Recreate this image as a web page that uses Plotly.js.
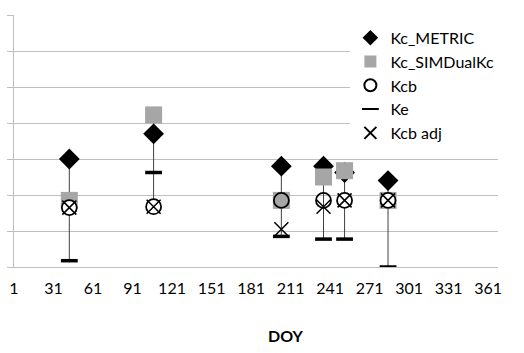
<!DOCTYPE html>
<html><head><meta charset="utf-8">
<script src="https://cdn.plot.ly/plotly-3.0.1.min.js"></script>
<style>html,body{margin:0;padding:0;background:#fff}#chart{width:524px;height:353px}</style>
</head><body><div id="chart"></div>
<script>
// Day of year of each observation
const doy = [43, 107, 204, 236, 252, 285];
// Series values
const kcMetric  = [0.60, 0.74, 0.56, 0.56, 0.525, 0.48];
const kcSimDual = [0.37, 0.845, 0.37, 0.50, 0.535, 0.37];
const kcb       = [0.33, 0.335, 0.37, 0.37, 0.37, 0.37];
const ke        = [0.035, 0.525, 0.17, 0.155, 0.155, 0.0];
const kcbAdj    = [0.33, 0.335, 0.21, 0.335, 0.37, 0.37];
// Axis ticks
const xTicks = [1, 31, 61, 91, 121, 151, 181, 211, 241, 271, 301, 331, 361];
const yTicks = [0, 0.2, 0.4, 0.6, 0.8, 1.0, 1.2, 1.4];

const FONT = 'Lato, "Open Sans", sans-serif';

// high-low lines built from the series
const hlX = [], hlY = [];
doy.forEach((d, i) => {
  const vals = [kcMetric[i], kcSimDual[i], kcb[i], ke[i], kcbAdj[i]];
  hlX.push(d, d, null);
  hlY.push(Math.max(...vals), Math.min(...vals), null);
});
const circleFill = doy.map((d, i) => (kcbAdj[i] === kcb[i] ? '#ffffff' : 'rgba(0,0,0,0)'));

const traces = [
  {x: hlX, y: hlY, mode: 'lines', line: {color: '#404040', width: 1}, showlegend: false, hoverinfo: 'skip'},
  {x: doy, y: kcMetric, name: 'Kc_METRIC', legendgroup: 'a', mode: 'markers',
   marker: {symbol: 'diamond', size: 16, color: '#000000'}},
  {x: doy, y: kcSimDual, name: 'Kc_SIMDualKc', legendgroup: 'b', mode: 'markers',
   marker: {symbol: 'square', size: 17, color: '#a6a6a6'}},
  {x: doy, y: kcb, name: 'Kcb', legendgroup: 'c', mode: 'markers',
   marker: {symbol: 'circle', size: 15, color: circleFill, line: {color: '#000000', width: 1.75}}},
  {x: doy, y: ke, name: 'Ke', legendgroup: 'd', mode: 'markers',
   marker: {symbol: 'line-ew', size: 12, color: '#000000', line: {color: '#000000', width: 3.5}}},
  {x: doy, y: kcbAdj, name: 'Kcb adj', legendgroup: 'e', mode: 'markers',
   marker: {symbol: 'x-thin-open', size: 14, color: '#000000', line: {color: '#000000', width: 1.5}}}
];

const layout = {
  width: 524, height: 353,
  margin: {l: 14, r: 26, t: 15, b: 86},
  paper_bgcolor: '#ffffff', plot_bgcolor: '#ffffff',
  font: {family: FONT, size: 16, color: '#000000'},
  showlegend: true,
  legend: {x: 0.695, xanchor: 'left', y: 0.977, yanchor: 'top', bgcolor: '#ffffff',
           font: {family: FONT, size: 16, color: '#000000'}, itemwidth: 30, itemsizing: 'constant',
           tracegroupgap: 4, traceorder: 'normal'},
  xaxis: {range: [1, 368.5], tickmode: 'array', tickvals: xTicks, ticktext: xTicks.map(String),
          showgrid: false, zeroline: false, showline: true, linecolor: '#bfbfbf', linewidth: 1,
          ticks: '', ticklabelstandoff: 7, tickfont: {family: FONT, size: 16, color: '#000000'}},
  yaxis: {range: [0, 1.4], tickmode: 'array', tickvals: yTicks, showticklabels: false,
          showgrid: true, gridcolor: '#bfbfbf', gridwidth: 1, zeroline: false,
          showline: true, linecolor: '#bfbfbf', linewidth: 1,
          ticks: 'outside', ticklen: 6, tickcolor: '#bfbfbf'},
  annotations: [{text: '<b>DOY</b>', xref: 'paper', yref: 'paper', x: 0.56, y: -0.27,
                 xanchor: 'center', yanchor: 'middle', showarrow: false,
                 font: {family: FONT, size: 16, color: '#000000'}}]
};

Plotly.newPlot('chart', traces, layout, {displayModeBar: false, staticPlot: true});
</script>
</body></html>
